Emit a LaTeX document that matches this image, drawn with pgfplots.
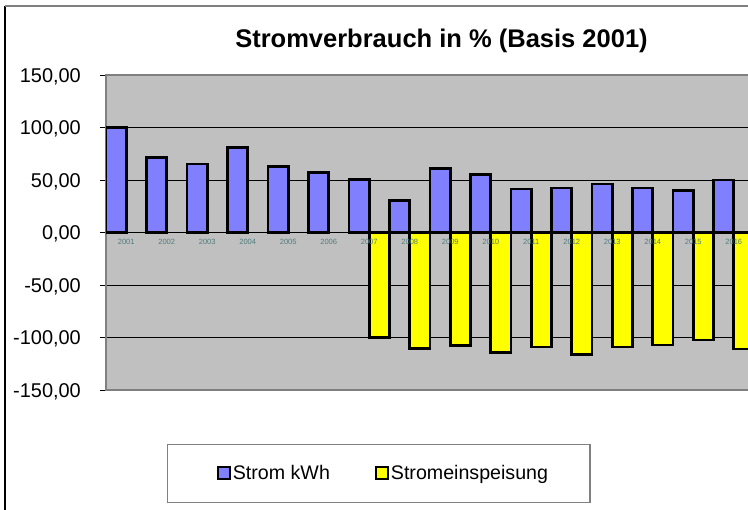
\documentclass[border=0pt]{standalone}
\usepackage{pgfplots}
\pgfplotsset{compat=1.18}
\usepackage{fontspec}
\setmainfont{Liberation Sans}
\definecolor{plotbg}{RGB}{192,192,192}
\definecolor{barblue}{RGB}{128,128,255}
\definecolor{baryellow}{RGB}{255,255,0}
\definecolor{framegray}{RGB}{128,128,128}
\definecolor{yearcol}{RGB}{80,125,125}
\begin{document}
\begin{tikzpicture}
\useasboundingbox (-106bp,-120bp) rectangle (642bp,390bp);
\clip (-106bp,-120bp) rectangle (642bp,390bp);
\fill[white] (-106bp,-120bp) rectangle (642bp,390bp);
\draw[black, line width=1.2bp] (-101bp,-125bp) -- (-101bp,384bp);
\draw[framegray, line width=1.5bp] (-101bp,384bp) -- (660bp,384bp);
\begin{axis}[
  scale only axis, width=688.5bp, height=315bp,
  xmin=-0.5, xmax=16.5, ymin=-150, ymax=150,
  axis background/.style={fill=plotbg},
  axis line style={draw=framegray, line width=1.5bp},
  xtick=\empty,
  ytick={-150,-100,-50,0,50,100,150},
  yticklabels={{-150,00},{-100,00},{-50,00},{0,00},{50,00},{100,00},{150,00}},
  ytick pos=left, tick align=outside, major tick length=6bp,
  tick style={black, line width=1bp},
  yticklabel style={font=\fontsize{20}{24}\selectfont, anchor=base east, inner sep=0pt, xshift=-19bp, yshift=-7.2bp},
  ymajorgrids, grid style={black, line width=0.9bp},
  title={\textbf{Stromverbrauch in \% (Basis 2001)}},
  title style={font=\fontsize{25.6}{30}\selectfont, at={(axis description cs:0.4873,1.0683)}, anchor=base, inner sep=0pt},
  legend columns=2,
  legend style={at={(axis description cs:0.0886,-0.1714)}, anchor=north west,
    draw=framegray, line width=1.2bp, fill=white,
    inner xsep=42bp, inner ysep=21bp,
    font=\fontsize{19.7}{23}\selectfont,
    nodes={inner sep=0pt, text depth=0.2em},
    /tikz/column 2/.style={column sep=45bp},
    /tikz/column 1/.style={column sep=2bp},
    /tikz/column 3/.style={column sep=2bp}},
  legend cell align=left,
]
\addplot[ybar, bar width=0.5, bar shift=-0.25, fill=barblue, draw=black, line width=2.6bp,
  legend image code/.code={\path (-7bp,0bp); \draw[fill=barblue, draw=black, line width=2bp] (0bp,-5bp) rectangle (12bp,7bp);}]
  coordinates {(0,100) (1,71.5) (2,65.3) (3,81) (4,63) (5,57) (6,50.5) (7,30.5)
               (8,61) (9,55.5) (10,41.5) (11,42.5) (12,46.3) (13,42.2) (14,40.2) (15,50)};
\addlegendentry{Strom kWh}
\addplot[ybar, bar width=0.5, bar shift=0.25, fill=baryellow, draw=black, line width=2.6bp,
  legend image code/.code={\draw[fill=baryellow, draw=black, line width=2bp] (0bp,-5bp) rectangle (12bp,7bp);}]
  coordinates {(6,-100) (7,-110.4) (8,-107.5) (9,-114) (10,-109.2) (11,-116.2)
               (12,-109.2) (13,-107) (14,-102.2) (15,-110.8)};
\addlegendentry{Stromeinspeisung}
\pgfplotsinvokeforeach{0,...,15}{
  \node[text=yearcol, font=\fontsize{7.6}{9}\selectfont, inner sep=0pt, yshift=-9.5bp] at (axis cs:#1,0) {\the\numexpr2001+#1\relax};
}
\end{axis}
\end{tikzpicture}
\end{document}
